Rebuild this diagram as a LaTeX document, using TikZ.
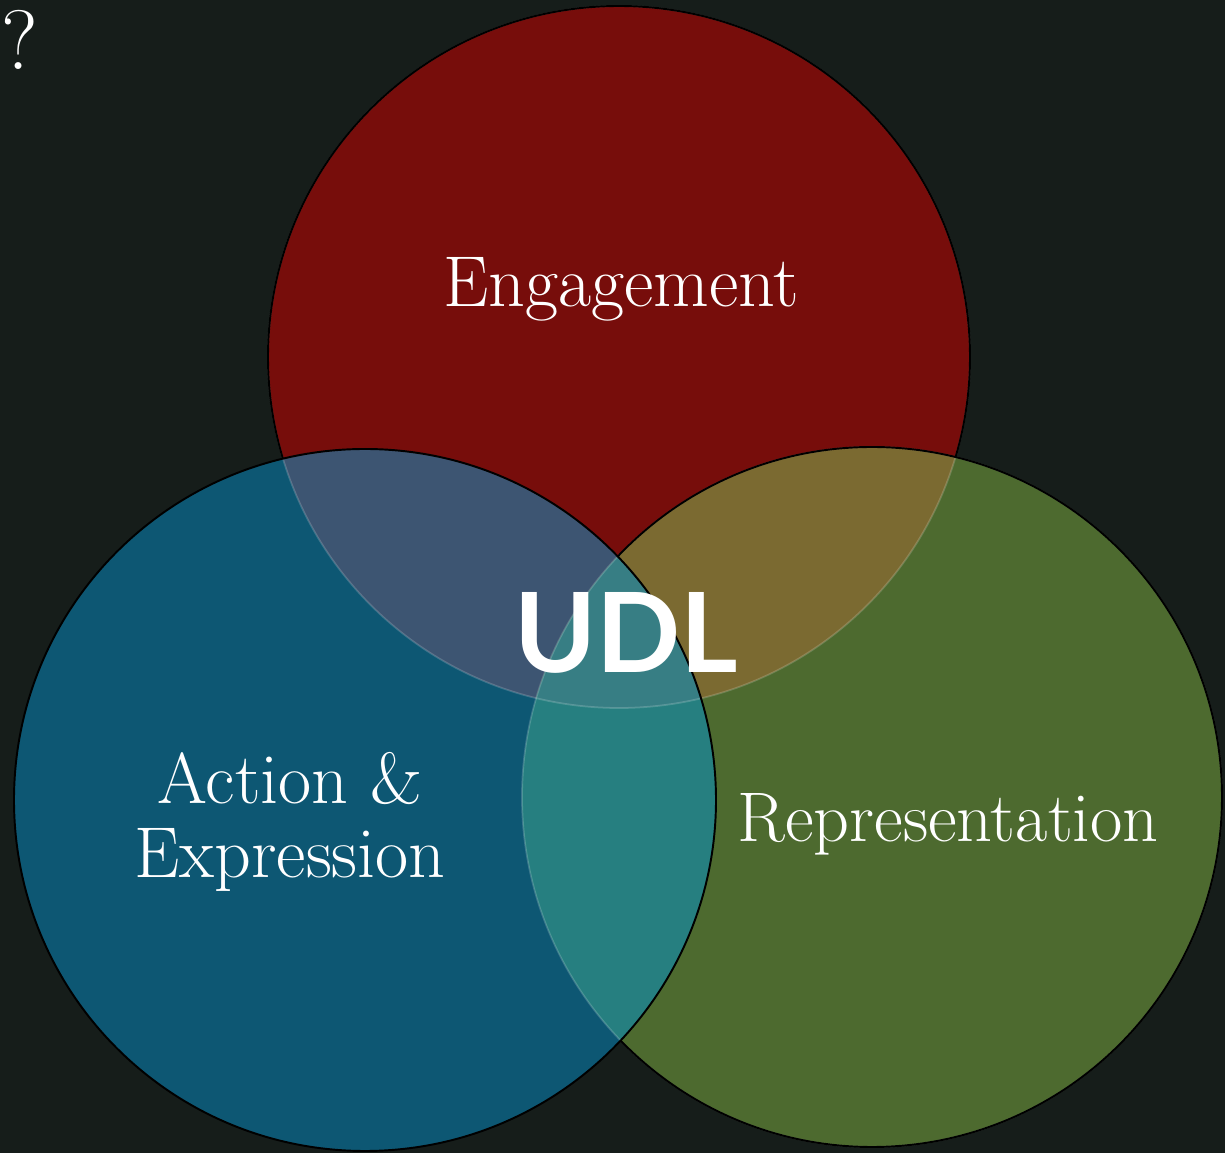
\documentclass[tikz,border=0pt]{standalone}
\usepackage{fontspec}
\newfontfamily\udlfont{Lato}
\usetikzlibrary{positioning}
\definecolor{board}{HTML}{161D1A}
\definecolor{engred}{HTML}{770D0B}
\definecolor{actblue}{HTML}{0D5773}
\definecolor{repgreen}{HTML}{4D6A2F}
\definecolor{mixrb}{HTML}{3D5572}
\definecolor{mixrg}{HTML}{7B6A31}
\definecolor{mixbg}{HTML}{267F80}
\definecolor{mixall}{HTML}{377E84}
\tikzstyle{ring} = [circle, inner sep=0pt, draw=none]
\tikzstyle{rim} = [draw=black, line width=1.1pt]
\tikzstyle{faintrim} = [draw=white, draw opacity=0.18, line width=1pt]
\tikzstyle{word} = [text=white, inner sep=0pt, font=\fontsize{41}{48}\selectfont]
\tikzstyle{bigword} = [text=white, inner sep=0pt, font=\udlfont\bfseries\fontsize{63}{70}\selectfont]

\begin{document}
\begin{tikzpicture}[x=0.02cm, y=0.02cm]

\fill[board] (0,0) rectangle (1225,1153);
\useasboundingbox (0,0) rectangle (1225,1153);

% the three circles
\node (engage) [ring, fill=engred, minimum size=14.04cm] at (619,796) {};
\node (rep) [ring, fill=repgreen, minimum size=14cm] at (872,356) {};
\node (act) [ring, fill=actblue, minimum size=14.04cm] at (365,353) {};

% overlaps
\begin{scope}
\clip (engage.center) circle (351);
\fill[mixrb] (act.center) circle (351);
\fill[mixrg] (rep.center) circle (350);
\end{scope}
\begin{scope}
\clip (rep.center) circle (350);
\fill[mixbg] (act.center) circle (351);
\end{scope}
\begin{scope}
\clip (rep.center) circle (350);
\clip (engage.center) circle (351);
\fill[mixall] (act.center) circle (351);
\end{scope}

% rims
\draw[faintrim] (engage.center) circle (351);
\draw[faintrim] (rep.center) circle (350);
\begin{scope}
\clip (0,0) rectangle (1225,1153) (act.center) circle (351);
\clip (0,0) rectangle (1225,1153) (rep.center) circle (350);
\draw[rim] (engage.center) circle (351);
\end{scope}
\begin{scope}
\clip (0,0) rectangle (1225,1153) (act.center) circle (351);
\draw[rim] (rep.center) circle (350);
\end{scope}
\draw[rim] (act.center) circle (351);

% labels
\node (engtext) [word, anchor=base] at (621,846) {Engagement};
\node (acttext) [word, anchor=base, align=center, font=\fontsize{41}{42.5}\selectfont] at (290,275) {Action \&\\Expression};
\node (reptext) [word, anchor=base, font=\fontsize{40}{48}\selectfont] at (948,311) {Representation};
\node (udl) [bigword, anchor=base] at (626,480) {UDL};
\node (query) [word, anchor=base west, font=\fontsize{48}{54}\selectfont] at (1,1083) {?};

\end{tikzpicture}
\end{document}
